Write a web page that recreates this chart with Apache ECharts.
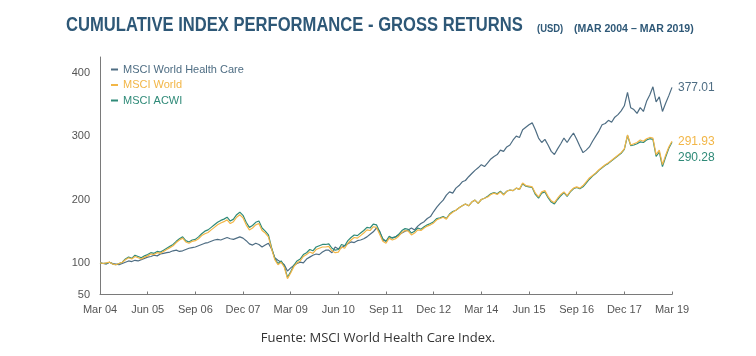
<!DOCTYPE html>
<html>
<head>
<meta charset="utf-8">
<script src="https://cdn.jsdelivr.net/npm/echarts@6/dist/echarts.min.js"></script>
<style>
html,body{margin:0;padding:0;background:#fff;}
#chart{width:756px;height:356px;}
</style>
</head>
<body>
<div id="chart"></div>
<script>
// Monthly observations, Mar 2004 – Mar 2019
const monthNames = ['Jan','Feb','Mar','Apr','May','Jun','Jul','Aug','Sep','Oct','Nov','Dec'];
const startYear = 2004, startMonth = 2, monthCount = 181;
const categories = [];
for (let k = 0; k < monthCount; k++) {
  const m = (startMonth + k) % 12;
  const y = startYear + Math.floor((startMonth + k) / 12);
  categories.push(monthNames[m] + ' ' + String(y).slice(2));
}

const healthCare = [
100,99,98,101,99,98,97,99,101,103,102,104,103,105,107,109,110,112,111,114,
115,116,117,119,120,118,119,121,123,124,125,127,129,131,132,134,136,137,136,138,
140,138,137,139,141,139,135,130,128,131,129,125,128,131,122,108,104,101,97,87,
92,96,99,101,100,106,109,112,114,113,117,120,120,116,125,122,124,127,130,133,
132,135,136,138,141,145,149,155,150,136,134,139,140,141,144,147,150,152,155,152,
158,162,165,170,173,181,188,194,199,207,212,210,218,222,228,230,236,241,246,250,
255,252,258,264,268,271,278,276,283,286,294,300,298,310,314,318,321,310,297,290,
295,286,276,271,280,288,297,290,298,305,295,284,274,278,283,292,300,308,318,320,
325,322,330,334,340,348,369,345,342,336,345,339,355,365,378,354,362,339,352,364,
377.01];

const msciWorld = [
100,99,100,101,98,97,99,101,105,108,106,110,108,106,109,111,114,113,116,115,
118,121,124,127,132,136,139,133,131,134,135,138,143,146,148,152,156,160,163,165,
168,162,165,172,176,171,160,152,155,160,162,151,147,141,122,105,97,101,93,75,
84,94,100,103,110,113,117,115,121,123,125,125,126,119,116,117,125,123,131,136,
140,139,143,147,152,151,157,156,145,134,131,139,136,138,142,148,151,150,144,147,
152,151,155,158,160,163,168,170,172,169,176,180,183,187,190,193,190,196,199,194,
200,202,204,208,210,208,212,207,213,215,214,218,216,226,222,221,220,210,204,212,
214,205,198,195,202,208,212,206,213,218,220,218,222,228,234,238,242,247,251,255,
258,262,266,270,274,280,302,286,288,290,294,292,296,298,297,271,278,255,270,283,
291.93];

const msciAcwi = [
100,99,99,101,98,97,99,101,106,109,107,112,110,108,111,113,116,115,118,117,
120,123,126,129,134,138,141,135,133,136,137,141,146,150,152,156,160,164,167,169,
172,166,169,176,180,175,164,156,159,164,166,155,150,144,124,107,99,103,95,77,
86,96,103,106,113,116,121,119,125,127,129,129,130,123,120,121,129,127,135,140,
144,143,147,151,156,155,161,160,149,138,134,142,139,141,145,151,154,153,147,150,
155,153,157,160,162,165,170,171,173,170,177,181,183,187,190,193,190,196,199,194,
200,202,205,209,211,209,213,208,213,215,214,218,216,225,221,220,219,208,202,210,
212,203,196,193,200,206,211,205,212,217,219,217,220,226,232,237,241,246,250,254,
257,261,265,269,273,279,301,285,286,288,291,290,294,296,295,268,275,252,267,281,
290.28];

const yTickLabels = [50, 100, 200, 300, 400];
const seriesNames = ['MSCI World Health Care', 'MSCI World', 'MSCI ACWI'];
const colors = { hc: '#4e6d83', world: '#f2b647', acwi: '#2f8a78' };

const chart = echarts.init(document.getElementById('chart'), null, {renderer: 'canvas'});
const axisFont = '"Liberation Sans", Arial, sans-serif';

chart.setOption({
  animation: false,
  backgroundColor: '#ffffff',
  legend: {
    orient: 'vertical', left: 106, top: 59,
    itemWidth: 7, itemHeight: 2, itemGap: 4.5,
    icon: 'rect',
    textStyle: { fontFamily: axisFont, fontSize: 11 },
    data: [
      { name: seriesNames[0], textStyle: { color: colors.hc } },
      { name: seriesNames[1], textStyle: { color: colors.world } },
      { name: seriesNames[2], textStyle: { color: colors.acwi } }
    ]
  },
  grid: { left: 100, right: 84, top: 57, bottom: 61.5, containLabel: false },
  xAxis: {
    type: 'category', data: categories, boundaryGap: false,
    axisLine: { lineStyle: { color: '#7a7a7a', width: 1 } },
    axisTick: { show: true, inside: true, length: 3, interval: 14, lineStyle: { color: '#7a7a7a' } },
    axisLabel: { interval: 14, color: '#555', fontFamily: axisFont, fontSize: 11, margin: 10 },
    splitLine: { show: false }
  },
  yAxis: {
    type: 'value', min: 50, max: 425, interval: 50,
    axisLine: { show: true, lineStyle: { color: '#7a7a7a', width: 1 } },
    axisTick: { show: false },
    splitLine: { show: false },
    axisLabel: {
      color: '#555', fontFamily: axisFont, fontSize: 11, margin: 10,
      showMaxLabel: false,
      formatter: function (v) { return yTickLabels.indexOf(v) >= 0 ? String(v) : ''; }
    }
  },
  series: [
    {
      name: seriesNames[0], type: 'line', data: healthCare, showSymbol: false, symbol: 'none',
      lineStyle: { color: colors.hc, width: 1.2 }, itemStyle: { color: colors.hc },
      endLabel: { show: true, formatter: function (p) { return Number(p.value).toFixed(2); }, color: '#4e6d83', fontFamily: axisFont, fontSize: 12, distance: 6 }
    },
    {
      name: seriesNames[2], type: 'line', data: msciAcwi, showSymbol: false, symbol: 'none',
      lineStyle: { color: colors.acwi, width: 1.2 }, itemStyle: { color: colors.acwi },
      endLabel: { show: true, formatter: function (p) { return Number(p.value).toFixed(2); }, color: '#2f8a78', fontFamily: axisFont, fontSize: 12, distance: 6, offset: [0, 15] }
    },
    {
      name: seriesNames[1], type: 'line', data: msciWorld, showSymbol: false, symbol: 'none',
      lineStyle: { color: colors.world, width: 1.2 }, itemStyle: { color: colors.world },
      endLabel: { show: true, formatter: function (p) { return Number(p.value).toFixed(2); }, color: '#f2b647', fontFamily: axisFont, fontSize: 12, distance: 6 }
    }
  ],
  graphic: [
    {
      type: 'text', x: 66, y: 15, scaleX: 0.79,
      style: { text: 'CUMULATIVE INDEX PERFORMANCE - GROSS RETURNS', fill: '#2e5877', font: 'bold 21px "Liberation Sans", Arial, sans-serif' }
    },
    {
      type: 'text', x: 537, y: 23, scaleX: 0.86,
      style: { text: '(USD)', fill: '#2e5877', font: 'bold 11px "Liberation Sans", Arial, sans-serif' }
    },
    {
      type: 'text', x: 574, y: 23, scaleX: 0.96,
      style: { text: '(MAR 2004 – MAR 2019)', fill: '#2e5877', font: 'bold 11px "Liberation Sans", Arial, sans-serif' }
    },
    {
      type: 'text', left: 'center', top: 332,
      style: { text: 'Fuente: MSCI World Health Care Index.', fill: '#333', font: '13px "Open Sans", sans-serif' }
    }
  ]
});
</script>
</body>
</html>
